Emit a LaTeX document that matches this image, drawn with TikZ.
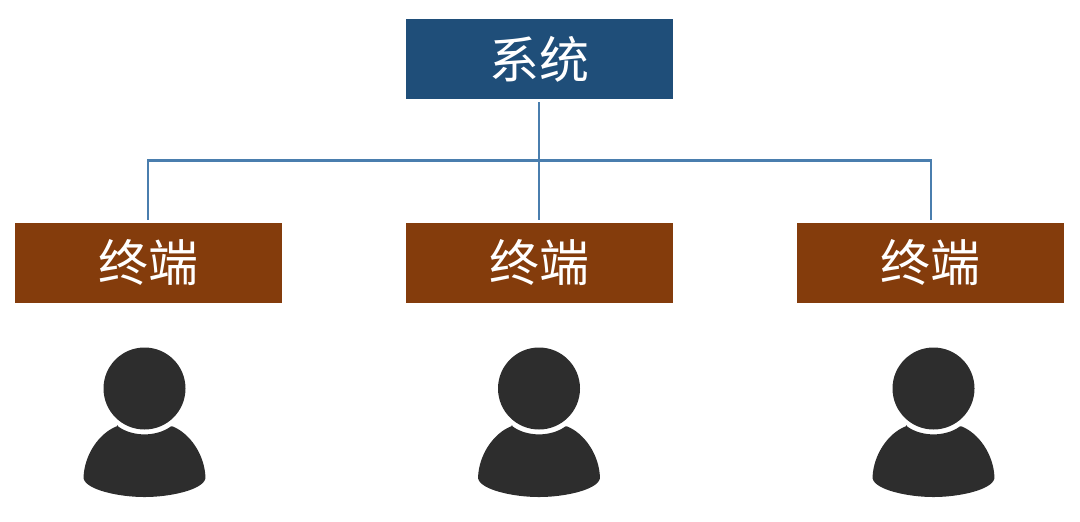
\documentclass[tikz,border=0pt]{standalone}
\usepackage{fontspec}
\newfontfamily\cjk{Noto Sans CJK SC}
\definecolor{sysblue}{HTML}{1F4E79}
\definecolor{termbrown}{HTML}{843C0C}
\definecolor{linkblue}{HTML}{4A7EAE}
\definecolor{persongray}{HTML}{2D2D2D}
\tikzset{
  x=0.75pt,y=-0.75pt,
  boxbase/.style={minimum width=200.25pt,minimum height=60pt,inner sep=0pt,text=white,font=\cjk\fontsize{37.5}{40}\selectfont},
  sysbox/.style={boxbase,fill=sysblue},
  termbox/.style={boxbase,fill=termbrown},
  link/.style={draw=linkblue,line width=1.6pt},
  pics/personicon/.style={code={
    \fill[persongray] (0,-55.5) circle[radius=41];
    \fill[persongray,rounded corners=0.6pt] (-27,-18)
      .. controls (-12,-7) and (12,-7) .. (27,-18)
      .. controls (45,-11) and (60,10) .. (61,34)
      .. controls (58,46) and (25,53) .. (0,53)
      .. controls (-25,53) and (-58,46) .. (-61,34)
      .. controls (-60,10) and (-45,-11) .. (-27,-18) -- cycle;
  }}
}
\begin{document}
\begin{tikzpicture}
\useasboundingbox (0,0) rectangle (1080,521);
\node[sysbox] (sys) at (539.4,59) {系统};
\node[termbox] (t1) at (148.4,263) {终端};
\node[termbox] (t2) at (539.4,263) {终端};
\node[termbox] (t3) at (930.9,263) {终端};
\coordinate (bus) at (539.4,160.5);
\draw[link,shorten >=2.25pt,shorten <=2.25pt] (sys) -- (t2);
\draw[link,shorten <=2.25pt] (t1.north) |- (bus);
\draw[link,shorten <=2.25pt] (t3.north) |- (bus);
\pic at (144.5,444) {personicon};
\pic at (539,444) {personicon};
\pic at (933.5,444) {personicon};
\end{tikzpicture}
\end{document}
